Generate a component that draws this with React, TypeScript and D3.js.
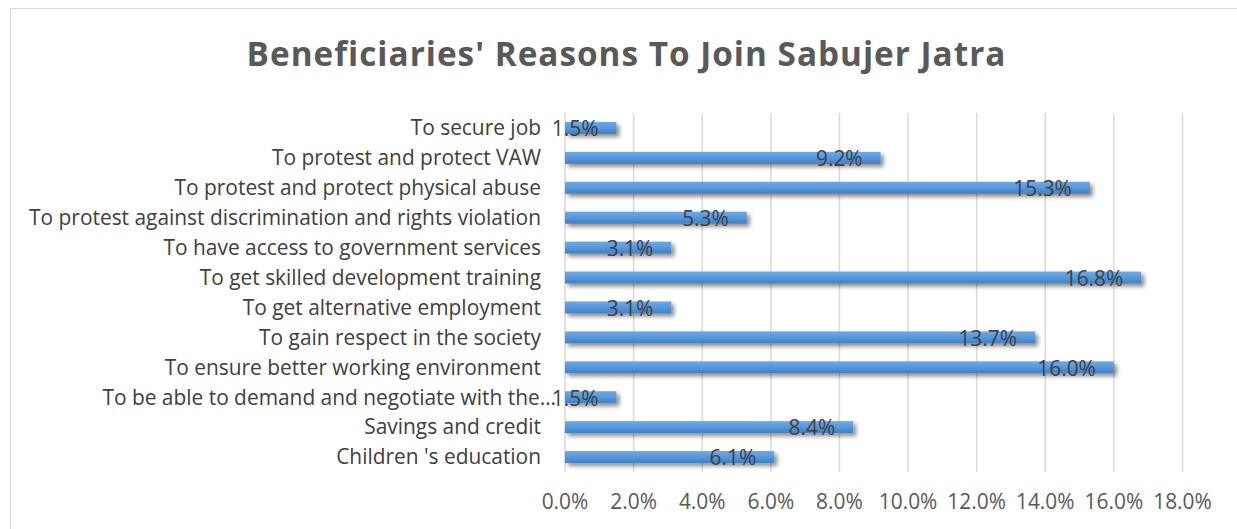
import React from "react";
import * as d3 from "d3";

const categories: string[] = [
  "To secure job",
  "To protest and protect VAW",
  "To protest and protect physical abuse",
  "To protest against discrimination and rights violation",
  "To have access to government services",
  "To get skilled development training",
  "To get alternative employment",
  "To gain respect in the society",
  "To ensure better working environment",
  "To be able to demand and negotiate with the…",
  "Savings and credit",
  "Children 's education",
];
const values: number[] = [1.5, 9.2, 15.3, 5.3, 3.1, 16.8, 3.1, 13.7, 16.0, 1.5, 8.4, 6.1];
const ticks: number[] = [0, 2, 4, 6, 8, 10, 12, 14, 16, 18];
const title = "Beneficiaries' Reasons To Join Sabujer Jatra";

const W = 1237;
const H = 529;
const FONT = "'Open Sans', 'DejaVu Sans', sans-serif";
const FS = 20.9;

export default function App() {
  const x = d3.scaleLinear().domain([0, 18]).range([565, 1182.5]);
  const yb = d3.scaleBand<string>().domain(categories).range([113, 472]);
  const fmt = (v: number) => v.toFixed(1) + "%";

  return (
    <div style={{ position: "absolute", left: 0, top: 0 }}>
      <svg width={W} height={H} style={{ display: "block", background: "#fff" }}>
        <defs>
          <linearGradient id="barGrad" x1="0" y1="0" x2="0" y2="1">
            <stop offset="0%" stopColor="#6eaae6" />
            <stop offset="50%" stopColor="#5797da" />
            <stop offset="100%" stopColor="#3f80c6" />
          </linearGradient>
          <filter id="shadow" x="-5%" y="-50%" width="115%" height="250%">
            <feGaussianBlur in="SourceAlpha" stdDeviation="2" />
            <feOffset dx="3" dy="3" result="ob" />
            <feComponentTransfer>
              <feFuncA type="linear" slope="0.45" />
            </feComponentTransfer>
            <feMerge>
              <feMergeNode />
              <feMergeNode in="SourceGraphic" />
            </feMerge>
          </filter>
        </defs>
        <rect x={10.5} y={8.5} width={W} height={H} fill="#fff" stroke="#d9d9d9" strokeWidth={1.2} />
        <text
          x={626.5}
          y={66}
          textAnchor="middle"
          fontFamily={FONT}
          fontWeight="bold"
          fontSize={33.3}
          letterSpacing={1}
          fill="#595959"
        >
          {title}
        </text>
        {ticks.map((t) => (
          <line key={"g" + t} x1={x(t)} x2={x(t)} y1={113} y2={472} stroke="#d9d9d9" strokeWidth={1.5} />
        ))}
        {ticks.map((t) => (
          <text
            key={"t" + t}
            x={x(t)}
            y={509}
            textAnchor="middle"
            fontFamily={FONT}
            fontSize={FS}
            fill="#595959"
          >
            {fmt(t)}
          </text>
        ))}
        {categories.map((c, i) => {
          const cy = (yb(c) as number) + yb.bandwidth() / 2;
          const truncated = c.endsWith("…");
          return (
            <g key={c}>
              <text
                x={truncated ? 556 : 541}
                y={cy}
                dy="0.35em"
                textAnchor="end"
                fontFamily={FONT}
                fontSize={FS}
                fill="#404040"
              >
                {c}
              </text>
              <rect
                x={x(0)}
                y={cy - 6}
                width={x(values[i]) - x(0)}
                height={12}
                fill="url(#barGrad)"
                filter="url(#shadow)"
              />
              <text
                x={x(values[i]) - 18}
                y={cy + 1}
                dy="0.35em"
                textAnchor="end"
                fontFamily={FONT}
                fontSize={FS}
                fill="#404040"
              >
                {fmt(values[i])}
              </text>
            </g>
          );
        })}
      </svg>
    </div>
  );
}
